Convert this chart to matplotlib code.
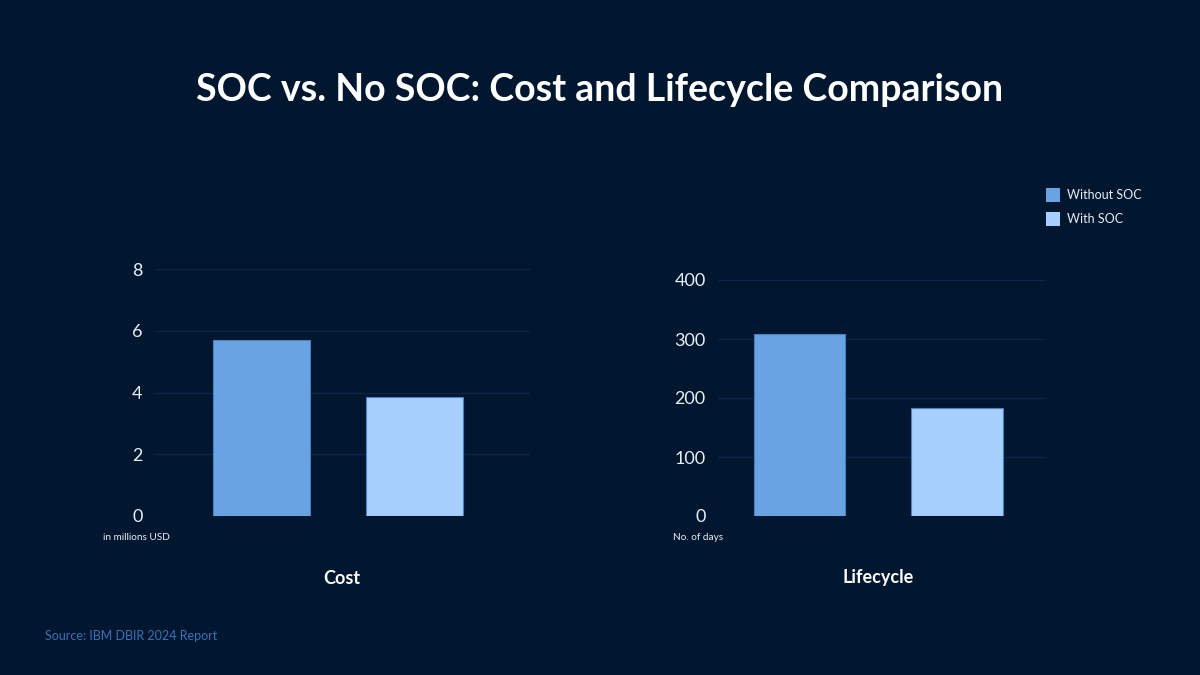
import matplotlib.pyplot as plt

plt.rcParams['font.family'] = ['Lato', 'DejaVu Sans']

series = ['Without SOC', 'With SOC']
cost = [5.7, 3.86]          # millions USD
lifecycle = [308, 183]      # no. of days
colors = ['#6aa3e3', '#a6cffd']
bg = '#00172f'
grid_c = '#0e2549'

fig = plt.figure(figsize=(12, 6.75), dpi=100, facecolor=bg)

def px(l, t, r, b):
    return [l / 1200, 1 - b / 675, (r - l) / 1200, (b - t) / 675]

def panel(rect, vals, width, xlim, ylim, ticks, unit, unit_x, label, label_x):
    ax = fig.add_axes(rect)
    ax.set_facecolor(bg)
    ax.bar([0, 1], vals, width=width, color=colors, edgecolor='#4d7fc0', linewidth=0.8, zorder=3)
    ax.set_xlim(*xlim)
    ax.set_ylim(*ylim)
    ax.set_yticks(ticks)
    ax.set_xticks([])
    ax.grid(axis='y', color=grid_c, linewidth=1, zorder=0)
    for s in ax.spines.values():
        s.set_visible(False)
    ax.tick_params(axis='y', length=0, pad=9, labelsize=13, labelcolor='#e8eef7')
    fig.text(unit_x, 1 - 537 / 675, unit, fontsize=7.2, color='#e8eef7', ha='center', va='center')
    fig.text(label_x, 1 - 578 / 675, label,
             fontsize=13, fontweight='bold', color='white', ha='center', va='center')
    return ax

ax1 = panel(px(155, 269, 530, 516), cost, 0.636, (-0.70, 1.76), (0, 8), [0, 2, 4, 6, 8],
            'in millions USD', 136 / 1200, 'Cost', 342 / 1200)
ax2 = panel(px(718, 280, 1045, 516), lifecycle, 0.58, (-0.52, 1.56), (0, 400), [0, 100, 200, 300, 400],
            'No. of days', 698 / 1200, 'Lifecycle', 878 / 1200)

fig.text(0.5, 1 - 90 / 675, 'SOC vs. No SOC: Cost and Lifecycle Comparison', fontsize=27,
         fontweight='bold', color='white', ha='center', va='center')

# legend
for i, (name, c) in enumerate(zip(series, colors)):
    y = 1 - (195 + i * 24) / 675
    fig.patches.append(plt.Rectangle((1046 / 1200, y - 7 / 675), 14 / 1200, 14 / 675,
                                     transform=fig.transFigure, facecolor=c, edgecolor='none'))
    fig.text(1067 / 1200, y, name, fontsize=9, color='#e8eef7', ha='left', va='center')

fig.text(45 / 1200, 1 - 636 / 675, 'Source: IBM DBIR 2024 Report', fontsize=9,
         color='#3f70b8', ha='left', va='center')

fig.savefig('out.png', facecolor=bg)
